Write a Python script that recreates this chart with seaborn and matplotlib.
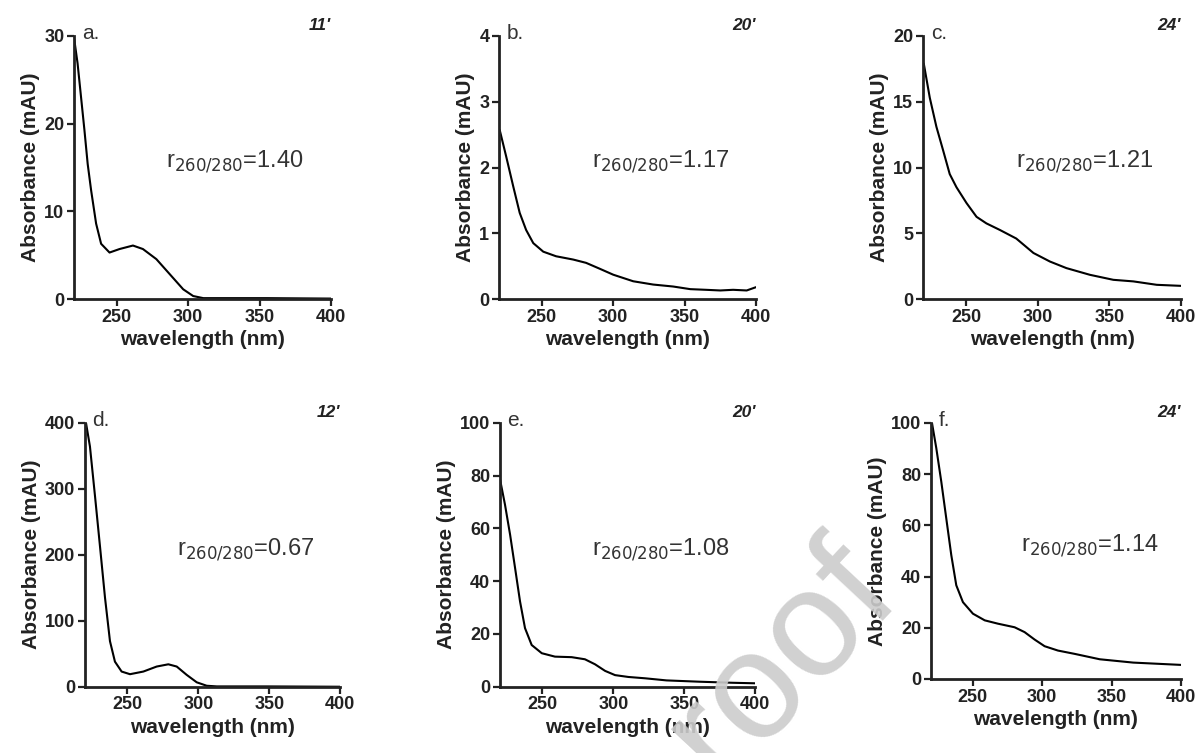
import matplotlib
matplotlib.use("Agg")
import matplotlib.pyplot as plt
import seaborn as sns
import pandas as pd

sns.set_style("ticks")
plt.rcParams['font.family'] = ['Liberation Sans', 'DejaVu Sans']

# spectra (wavelength in nm, absorbance in mAU)
wl_a = [220.2, 222.5, 224.9, 227.3, 229.6, 232, 235.5, 239, 244.9, 251.9, 261.3, 268.3, 277.7, 287.1, 296.5,
        303.5, 310.6, 330, 355, 400]
abs_a = [29.6, 26.9, 23.1, 19.3, 15.4, 12.4, 8.6, 6.3, 5.3, 5.7, 6.1, 5.7, 4.55, 2.83, 1.11,
         0.34, 0.1, 0.1, 0.1, 0.05]

wl_b = [220.5, 225, 230, 234.5, 239, 244, 251, 260, 272, 281, 290.6, 300, 314, 328, 342, 354, 365, 375, 384,
        393.5, 400]
abs_b = [2.57, 2.17, 1.71, 1.31, 1.05, 0.85, 0.72, 0.65, 0.60, 0.55, 0.46, 0.37, 0.27, 0.22, 0.19, 0.15, 0.14,
         0.13, 0.14, 0.13, 0.18]

wl_c = [220.5, 224.7, 229.3, 234, 238.6, 243.3, 250.3, 257.3, 264.2, 273.6, 285, 297, 308.5, 320, 336.4, 352.7,
        366.7, 383, 400]
abs_c = [17.9, 15.3, 13.1, 11.3, 9.5, 8.5, 7.3, 6.25, 5.75, 5.25, 4.6, 3.5, 2.85, 2.35, 1.84, 1.46, 1.34, 1.08,
         1.0]

wl_d = [220.9, 223.7, 227.3, 230.8, 234.3, 237.8, 241.3, 246, 251.9, 261.3, 270.7, 278.9, 284.8, 291.8, 298.9,
        305.9, 313, 347.7, 400]
abs_d = [400, 364, 288, 212, 135, 69, 38, 23, 19, 23, 30.6, 34, 30.6, 18, 6.7, 1.5, 0.5, 0.5, 0]

wl_e = [220, 223.7, 227.3, 230.8, 234.3, 237.8, 242.5, 249.6, 258.9, 270.7, 280, 287.1, 294.2, 301.2, 310.6,
        322.3, 337.4, 360.8, 384, 400]
abs_e = [79.1, 69, 57.6, 45, 32.3, 22.2, 15.8, 12.7, 11.4, 11.2, 10.4, 8.5, 6.0, 4.4, 3.7, 3.2, 2.4, 1.9, 1.5,
         1.3]

wl_f = [220.7, 223.8, 227.4, 231, 234.6, 238.2, 243, 250.2, 258.7, 268.2, 280.2, 287.4, 294.6, 301.8, 311.4,
        323.5, 341.5, 365.6, 400]
abs_f = [100, 90.2, 77.1, 62.7, 48.4, 36.6, 30, 25.5, 22.9, 21.6, 20.2, 18.3, 15.4, 12.8, 11.1, 9.8, 7.7, 6.4,
         5.5]

letters = ['a.', 'b.', 'c.', 'd.', 'e.', 'f.']
times = ["11'", "20'", "24'", "12'", "20'", "24'"]
ratios = ['1.40', '1.17', '1.21', '0.67', '1.08', '1.14']
ymax = [30, 4, 20, 400, 100, 100]
ystep = [10, 1, 5, 100, 20, 20]

spectra = [(wl_a, abs_a), (wl_b, abs_b), (wl_c, abs_c), (wl_d, abs_d), (wl_e, abs_e), (wl_f, abs_f)]

# axes boxes in figure fraction (left, bottom, width, height)
boxes = [
    (0.0615, 0.6029, 0.2136, 0.3493),
    (0.4148, 0.6029, 0.2136, 0.3493),
    (0.7673, 0.6029, 0.2145, 0.3493),
    (0.0704, 0.0880, 0.2125, 0.3506),
    (0.4154, 0.0880, 0.2125, 0.3506),
    (0.7739, 0.0983, 0.2078, 0.3400),
]

fig = plt.figure(figsize=(12.03, 7.53), dpi=100)

for i in range(6):
    ax = fig.add_axes(boxes[i])
    df = pd.DataFrame({'wavelength': spectra[i][0], 'absorbance': spectra[i][1]})
    sns.lineplot(data=df, x='wavelength', y='absorbance', ax=ax, color='black', linewidth=1.5)
    ax.set_xlim(220, 400)
    ax.set_ylim(0, ymax[i])
    ax.set_xticks([250, 300, 350, 400])
    ax.set_yticks(range(0, ymax[i] + 1, ystep[i]))
    ax.set_xlabel('wavelength (nm)', fontsize=15, fontweight='bold', color='#222222', labelpad=3)
    ax.set_ylabel('Absorbance (mAU)', fontsize=15, fontweight='bold', color='#222222', labelpad=3)
    sns.despine(ax=ax)
    for s in ['left', 'bottom']:
        ax.spines[s].set_linewidth(2)
        ax.spines[s].set_color('#222222')
    ax.tick_params(width=1.6, length=5, labelsize=13, pad=2, colors='#222222')
    for lab in ax.get_xticklabels() + ax.get_yticklabels():
        lab.set_fontweight('bold')
    ax.text(0.03, 1.01, letters[i], transform=ax.transAxes, fontsize=15, va='center', ha='left',
            color='#333333')
    ax.text(1.0, 1.04, times[i], transform=ax.transAxes, fontsize=12.5, fontweight='bold',
            fontstyle='italic', va='center', ha='right', color='#222222')
    ax.text(0.36, 0.52, r'r$_{260/280}$=' + ratios[i], transform=ax.transAxes,
            fontsize=17, color='#333333', va='center', ha='left')

# watermark
fig.text(0.751, 0.204, 'Journal Pre-proof', fontsize=110, color='#cccccc', alpha=0.9,
         rotation=47, rotation_mode='anchor', ha='right', va='baseline', zorder=10)

fig.savefig('out.png', dpi=100)
